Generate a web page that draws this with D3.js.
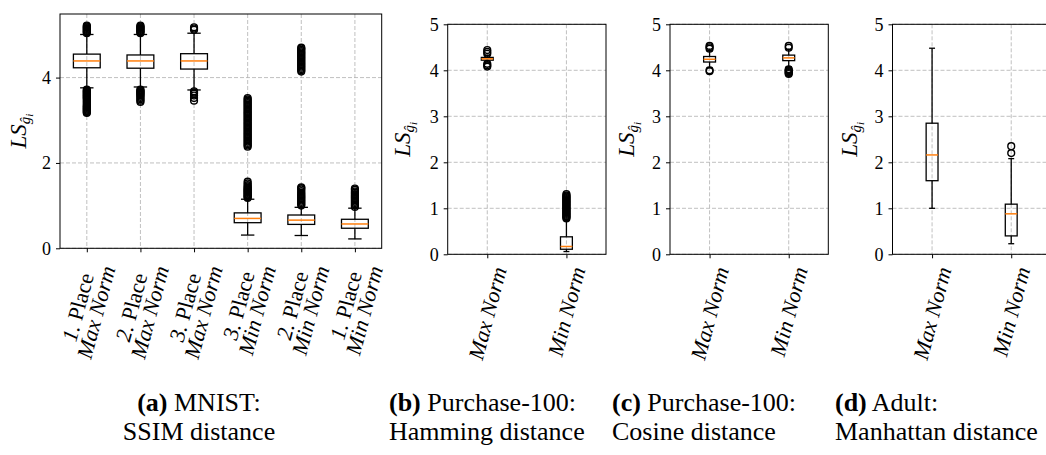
<!DOCTYPE html>
<html>
<head>
<meta charset="utf-8">
<script src="https://cdn.jsdelivr.net/npm/d3@7"></script>
<style>
  body { margin: 0; background: #fff; }
  svg { display: block; }
  text { font-family: "Liberation Serif", serif; }
</style>
</head>
<body>
<svg id="vis"></svg>
<script>
const width = 1046;
const height = 455;

// box stats are [lower whisker, q1, median, q3, upper whisker]

// (a) MNIST, SSIM distance
const mnistPlaces = ["1.", "2.", "3.", "3.", "2.", "1."];
const mnistNorms = ["Max Norm", "Max Norm", "Max Norm", "Min Norm", "Min Norm", "Min Norm"];
const mnistStats = [
  [3.76, 4.23, 4.39, 4.55, 5.01],
  [3.78, 4.22, 4.39, 4.53, 5.01],
  [3.71, 4.20, 4.39, 4.56, 5.04],
  [0.31, 0.60, 0.70, 0.83, 1.15],
  [0.30, 0.56, 0.66, 0.78, 0.96],
  [0.22, 0.47, 0.57, 0.68, 0.94]
];
const mnistFliers = [
  [5.04, 5.06, 5.08, 5.10, 5.12, 5.14, 5.16, 5.18, 5.20, 5.22,
   3.17, 3.19, 3.21, 3.23, 3.25, 3.27, 3.29, 3.31, 3.33, 3.35, 3.38, 3.41, 3.44, 3.47, 3.50,
   3.52, 3.54, 3.56, 3.58, 3.60, 3.62, 3.64, 3.66, 3.68, 3.70, 3.72],
  [5.04, 5.06, 5.08, 5.10, 5.12, 5.14, 5.16, 5.18, 5.20, 5.22,
   3.43, 3.46, 3.49, 3.52, 3.55, 3.58, 3.60, 3.62, 3.64, 3.66, 3.68, 3.70, 3.72],
  [5.12, 5.15, 5.18, 3.46, 3.52, 3.58, 3.62, 3.65, 3.68],
  [1.18, 1.20, 1.22, 1.24, 1.26, 1.28, 1.30, 1.32, 1.34, 1.36, 1.38, 1.40, 1.42, 1.45, 1.48, 1.52, 1.56,
   2.38, 2.41, 2.44, 2.47, 2.50, 2.53, 2.56, 2.59, 2.62, 2.65, 2.68, 2.71, 2.74, 2.77, 2.80, 2.83,
   2.86, 2.89, 2.92, 2.95, 2.98, 3.01, 3.04, 3.07, 3.10, 3.13, 3.16, 3.19, 3.22, 3.25, 3.28, 3.31,
   3.34, 3.37, 3.40, 3.43, 3.46, 3.49, 3.52],
  [1.00, 1.03, 1.06, 1.09, 1.12, 1.15, 1.18, 1.21, 1.24, 1.27, 1.30, 1.34, 1.38, 1.41, 1.43,
   4.14, 4.17, 4.20, 4.23, 4.26, 4.29, 4.32, 4.35, 4.38, 4.41, 4.44, 4.47, 4.50, 4.53, 4.56,
   4.59, 4.62, 4.65, 4.68, 4.70],
  [0.97, 1.00, 1.03, 1.06, 1.09, 1.12, 1.15, 1.18, 1.21, 1.24, 1.27, 1.30, 1.33, 1.37, 1.40]
];

// (b) Purchase-100, Hamming distance
const hammingNorms = ["Max Norm", "Min Norm"];
const hammingStats = [
  [4.18, 4.22, 4.25, 4.28, 4.32],
  [0.06, 0.11, 0.17, 0.38, 0.75]
];
const hammingFliers = [
  [4.36, 4.40, 4.44, 4.08, 4.11, 4.14],
  [0.78, 0.80, 0.82, 0.84, 0.86, 0.88, 0.90, 0.92, 0.94, 0.96, 0.98, 1.00, 1.02, 1.04, 1.06,
   1.08, 1.10, 1.12, 1.14, 1.16, 1.18, 1.20, 1.22, 1.24, 1.26, 1.28, 1.31]
];

// (c) Purchase-100, Cosine distance
const cosineNorms = ["Max Norm", "Min Norm"];
const cosineStats = [
  [4.06, 4.18, 4.24, 4.30, 4.42],
  [4.08, 4.21, 4.27, 4.33, 4.45]
];
const cosineFliers = [
  [4.47, 4.50, 4.53, 3.98, 4.00],
  [4.49, 4.53, 3.92, 3.94, 3.96, 3.98, 4.00, 4.02]
];

// (d) Adult, Manhattan distance
const adultNorms = ["Max Norm", "Min Norm"];
const adultStats = [
  [1.00, 1.60, 2.16, 2.85, 4.48],
  [0.23, 0.40, 0.88, 1.09, 2.08]
];
const adultFliers = [
  [],
  [2.20, 2.35]
];

const yTicksA = [0, 2, 4];
const yTicksB = [0, 1, 2, 3, 4, 5];

const captionTags = ["(a)", "(b)", "(c)", "(d)"];
const captionFirst = ["MNIST:", "Purchase-100:", "Purchase-100:", "Adult:"];
const captionSecond = ["SSIM distance", "Hamming distance", "Cosine distance", "Manhattan distance"];

const svg = d3.select("svg#vis");
svg.attr("width", width);
svg.attr("height", height);

const mnistLabels = mnistPlaces.map((p, i) => [
  [{ t: p, it: true }, { t: " Place", it: false }],
  [{ t: mnistNorms[i], it: true }]
]);
const single = names => names.map(n => [[{ t: n, it: true }]]);

const panels = [
  { left: 60, top: 14, w: 321.7, h: 234.3, ymax: 5.49, ticks: yTicksA, stats: mnistStats,
    fliers: mnistFliers, labels: mnistLabels, bw: 0.5, ylabOff: 34 },
  { left: 447.7, top: 24.3, w: 158.3, h: 230, ymax: 5, ticks: yTicksB, stats: hammingStats,
    fliers: hammingFliers, labels: single(hammingNorms), bw: 0.15, ylabOff: 38 },
  { left: 670, top: 24.3, w: 158.3, h: 230, ymax: 5, ticks: yTicksB, stats: cosineStats,
    fliers: cosineFliers, labels: single(cosineNorms), bw: 0.15, ylabOff: 36 },
  { left: 892.5, top: 24.3, w: 158.3, h: 230, ymax: 5, ticks: yTicksB, stats: adultStats,
    fliers: adultFliers, labels: single(adultNorms), bw: 0.15, ylabOff: 35.5 }
];

panels.forEach(drawPanel);
drawCaptions();

function drawPanel(p) {
  const g = svg.append("g").attr("transform", translate(p.left, p.top));
  const n = p.stats.length;
  const pos = d3.range(1, n + 1);
  const x = d3.scaleLinear().domain([0.5, n + 0.5]).range([0, p.w]);
  const y = d3.scaleLinear().domain([0, p.ymax]).range([p.h, 0]);
  const bw = p.bw * (x(2) - x(1));

  // grid
  g.selectAll("hgrid").data(p.ticks).enter().append("line")
    .attr("x1", 0).attr("x2", p.w)
    .attr("y1", d => y(d)).attr("y2", d => y(d))
    .attr("stroke", "#b0b0b0").attr("stroke-width", 0.8).attr("stroke-dasharray", "4,2");
  g.selectAll("vgrid").data(pos).enter().append("line")
    .attr("x1", d => x(d)).attr("x2", d => x(d))
    .attr("y1", 0).attr("y2", p.h)
    .attr("stroke", "#b0b0b0").attr("stroke-width", 0.8).attr("stroke-dasharray", "4,2");

  const boxes = g.selectAll("box").data(p.stats).enter().append("g")
    .attr("transform", (d, i) => translate(x(i + 1), 0));

  boxes.append("line").attr("x1", 0).attr("x2", 0)
    .attr("y1", d => y(d[0])).attr("y2", d => y(d[1]))
    .attr("stroke", "#000").attr("stroke-width", 1.3);
  boxes.append("line").attr("x1", 0).attr("x2", 0)
    .attr("y1", d => y(d[3])).attr("y2", d => y(d[4]))
    .attr("stroke", "#000").attr("stroke-width", 1.3);
  boxes.append("line").attr("x1", -bw / 4).attr("x2", bw / 4)
    .attr("y1", d => y(d[0])).attr("y2", d => y(d[0]))
    .attr("stroke", "#000").attr("stroke-width", 1.3);
  boxes.append("line").attr("x1", -bw / 4).attr("x2", bw / 4)
    .attr("y1", d => y(d[4])).attr("y2", d => y(d[4]))
    .attr("stroke", "#000").attr("stroke-width", 1.3);
  boxes.append("rect")
    .attr("x", -bw / 2).attr("width", bw)
    .attr("y", d => y(d[3])).attr("height", d => y(d[1]) - y(d[3]))
    .attr("fill", "none").attr("stroke", "#000").attr("stroke-width", 1.3);
  boxes.append("line").attr("x1", -bw / 2).attr("x2", bw / 2)
    .attr("y1", d => y(d[2])).attr("y2", d => y(d[2]))
    .attr("stroke", "#ff7f0e").attr("stroke-width", 1.5);

  const pts = p.fliers.flatMap((f, i) => f.map(v => [i + 1, v]));
  g.selectAll("flier").data(pts).enter().append("circle")
    .attr("cx", d => x(d[0])).attr("cy", d => y(d[1])).attr("r", 3.4)
    .attr("fill", "none").attr("stroke", "#000").attr("stroke-width", 1.4);

  // frame and ticks
  g.append("rect").attr("width", p.w).attr("height", p.h)
    .attr("fill", "none").attr("stroke", "#000").attr("stroke-width", 1);

  const ya = g.append("g").call(d3.axisLeft(y).tickValues(p.ticks).tickSize(4).tickPadding(5)
    .tickFormat(d3.format("d")));
  ya.select(".domain").remove();
  ya.attr("font-family", null);
  ya.selectAll("line").attr("stroke", "#000");
  ya.selectAll("text").style("font-family", "'Liberation Serif', serif").style("font-size", "18px").attr("fill", "#000");

  const xa = g.append("g").attr("transform", translate(0, p.h))
    .call(d3.axisBottom(x).tickValues(pos).tickSize(4).tickFormat(""));
  xa.select(".domain").remove();
  xa.selectAll("line").attr("stroke", "#000");

  // rotated tick labels
  p.labels.forEach((lines, i) => {
    const outer = svg.append("g");
    const inner = outer.append("g").attr("transform", "rotate(-75)");
    lines.forEach((parts, j) => {
      const t = inner.append("text")
        .attr("text-anchor", "middle")
        .attr("y", j * 19)
        .style("font-size", "22px");
      parts.forEach(pt => t.append("tspan").style("font-style", pt.it ? "italic" : "normal").text(pt.t));
    });
    const r = inner.node().getBoundingClientRect();
    const tx = p.left + x(i + 1) - (r.left + r.right) / 2;
    const ty = p.top + p.h + 10 - r.top;
    outer.attr("transform", translate(tx, ty));
  });

  // y label
  const lab = svg.append("text")
    .attr("transform", translate(p.left - p.ylabOff, p.top + p.h / 2) + " rotate(-90)")
    .attr("text-anchor", "middle")
    .style("font-size", "23px").style("font-style", "italic");
  lab.append("tspan").text("LS");
  lab.append("tspan").attr("dy", 4).style("font-size", "15px").text("ĝ");
  lab.append("tspan").attr("dy", 3).style("font-size", "11px").text("i");
}

function drawCaptions() {
  const spots = [{ x: 199, anchor: "middle" }, { x: 389, anchor: "start" },
                 { x: 612, anchor: "start" }, { x: 835, anchor: "start" }];
  captionTags.forEach((tag, i) => {
    const t1 = svg.append("text").attr("x", spots[i].x).attr("y", 411)
      .attr("text-anchor", spots[i].anchor).style("font-size", "26px");
    t1.append("tspan").style("font-weight", "bold").text(tag);
    t1.append("tspan").text(" " + captionFirst[i]);
    svg.append("text").attr("x", spots[i].x).attr("y", 440)
      .attr("text-anchor", spots[i].anchor).style("font-size", "26px")
      .text(captionSecond[i]);
  });
}

function translate(x, y) {
  return "translate(" + String(x) + "," + String(y) + ")";
}
</script>
</body>
</html>
